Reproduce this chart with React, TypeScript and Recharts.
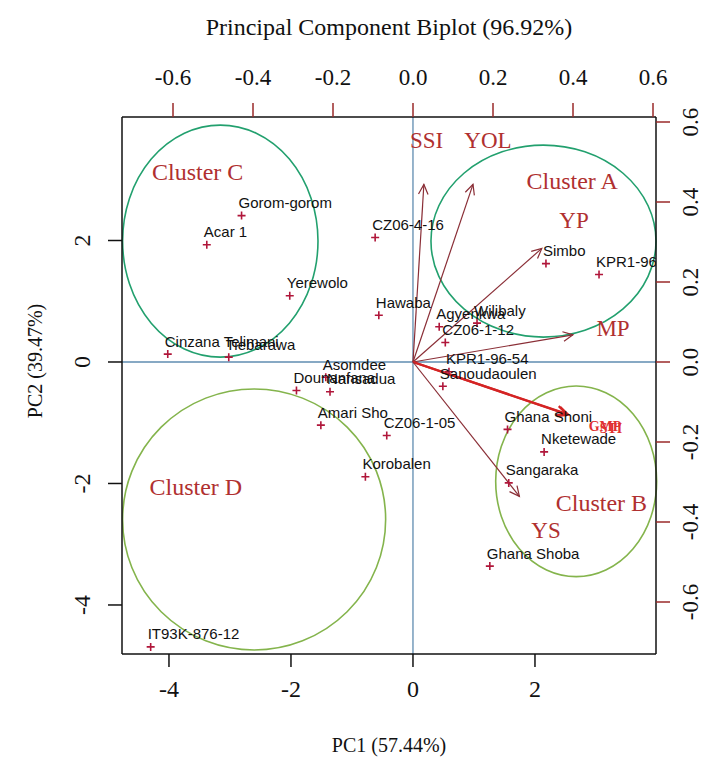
import { ScatterChart, Scatter, XAxis, YAxis, ReferenceLine, ReferenceArea } from 'recharts';

// genotype scores (PC1, PC2)
const genotypes = [
  'Gorom-gorom', 'Acar 1', 'Yerewolo', 'CZ06-4-16', 'Hawaba', 'Cinzana Telimani', 'Tiebarawa',
  'Asomdee', 'Dounanfana', 'Nansadua', 'Amari Sho', 'CZ06-1-05', 'Korobalen', 'IT93K-876-12',
  'Simbo', 'KPR1-96', 'Agyenkwa', 'Wilibaly', 'CZ06-1-12', 'KPR1-96-54', 'Sanoudaoulen',
  'Ghana Shoni', 'Nketewade', 'Sangaraka', 'Ghana Shoba',
];
const pc1 = [
  -2.81, -3.38, -2.02, -0.62, -0.56, -4.02, -3.02,
  -1.43, -1.91, -1.36, -1.51, -0.43, -0.78, -4.30,
  2.18, 3.05, 0.43, 1.05, 0.53, 0.59, 0.49,
  1.55, 2.15, 1.57, 1.26,
];
const pc2 = [
  2.41, 1.93, 1.09, 2.05, 0.77, 0.13, 0.08,
  -0.25, -0.47, -0.49, -1.04, -1.21, -1.89, -4.69,
  1.62, 1.44, 0.58, 0.64, 0.32, -0.16, -0.40,
  -1.11, -1.48, -1.99, -3.36,
];

// variable loadings
const variables = ['SSI', 'YOL', 'YP', 'MP', 'GMP', 'STI', 'YS'];
const load1 = [0.034, 0.1875, 0.4025, 0.5, 0.48, 0.485, 0.3325];
const load2 = [0.555, 0.555, 0.355, 0.085, -0.162, -0.165, -0.42];

// clusters: bounding box on PC scale and label position
const clusters = ['Cluster A', 'Cluster B', 'Cluster C', 'Cluster D'];
const clusterX1 = [0.295, 1.356, -4.76, -4.76];
const clusterX2 = [3.984, 3.995, -1.557, -0.448];
const clusterY1 = [0.41, -3.534, 0.08, -4.74];
const clusterY2 = [3.57, -0.395, 3.9, -0.444];
const clusterLabelX = [2.61, 3.09, -3.53, -3.56];
const clusterLabelY = [2.98, -2.32, 3.13, -2.06];

const xTicks = [-4, -2, 0, 2];
const yTicks = [-4, -2, 0, 2];
const loadTicks = [-0.6, -0.4, -0.2, 0, 0.2, 0.4, 0.6];

const SERIF = '"Liberation Serif", "Times New Roman", serif';
const SANS = '"Liberation Sans", Arial, sans-serif';
const RED = '#b03030';
const ARROW = '#8a2e36';
const clusterColors: Record<string, string> = {
  'Cluster A': '#22a06e',
  'Cluster B': '#84b44c',
  'Cluster C': '#22a06e',
  'Cluster D': '#84b44c',
};

const genoData = genotypes.map((name, i) => ({ name, x: pc1[i], y: pc2[i] }));
const varData = variables.map((name, i) => ({ name, x: load1[i], y: load2[i] }));
const clusterLabels = clusters.map((name, i) => ({ name, x: clusterLabelX[i], y: clusterLabelY[i] }));

const GenoMark = (p: any) => {
  const { cx, cy, payload } = p;
  return (
    <g>
      <path d={`M${cx - 4},${cy}H${cx + 4}M${cx},${cy - 4}V${cy + 4}`} stroke="#b0163a" strokeWidth={1.6} />
      <text x={cx - 3} y={cy - 7.5} fontSize={15} fontFamily={SANS} fill="#111">
        {payload.name}
      </text>
    </g>
  );
};

const VarLabel = (p: any) => {
  const { cx, cy, payload } = p;
  const small = payload.name === 'GMP' || payload.name === 'STI';
  return (
    <text
      x={cx + (payload.name === 'STI' ? 4 : 0)}
      y={cy}
      textAnchor="middle"
      dominantBaseline="central"
      fontSize={small ? 14 : 23}
      fontWeight={small ? 'bold' : 'normal'}
      fontFamily={SERIF}
      fill={small ? '#e03030' : RED}
    >
      {payload.name}
    </text>
  );
};

const ClusterLabel = (p: any) => (
  <text x={p.cx} y={p.cy} textAnchor="middle" dominantBaseline="central" fontSize={24} fontFamily={SERIF} fill={RED}>
    {p.payload.name}
  </text>
);

const arrowShape = (color: string, width: number) => (p: any) => {
  const { x1, y1, x2, y2 } = p;
  const ang = Math.atan2(y2 - y1, x2 - x1);
  const len = 11;
  const spread = Math.PI / 7;
  const ax = x2 - len * Math.cos(ang - spread);
  const ay = y2 - len * Math.sin(ang - spread);
  const bx = x2 - len * Math.cos(ang + spread);
  const by = y2 - len * Math.sin(ang + spread);
  return (
    <g>
      <line x1={x1} y1={y1} x2={x2} y2={y2} stroke={color} strokeWidth={width} />
      <polyline points={`${ax},${ay} ${x2},${y2} ${bx},${by}`} fill="none" stroke={color} strokeWidth={width} />
    </g>
  );
};

const ellipseShape = (color: string) => (p: any) => {
  const { x, y, width, height } = p;
  return (
    <ellipse cx={x + width / 2} cy={y + height / 2} rx={Math.abs(width) / 2} ry={Math.abs(height) / 2}
      fill="none" stroke={color} strokeWidth={1.6} />
  );
};

const tickText = (x: number, y: number, value: string, size: number, rotate = false) => (
  <text
    x={x}
    y={y}
    textAnchor="middle"
    dominantBaseline="central"
    fontSize={size}
    fontFamily={SERIF}
    fill="#111"
    transform={rotate ? `rotate(-90 ${x} ${y})` : undefined}
  >
    {value}
  </text>
);

const BottomTick = (p: any) => tickText(p.x, p.y + 20, String(p.payload.value), 24);
const TopTick = (p: any) => tickText(p.x, p.y - 24, Number(p.payload.value).toFixed(1), 23);
const LeftTick = (p: any) => tickText(p.x - 24, p.y, String(p.payload.value), 24, true);
const RightTick = (p: any) => tickText(p.x + 18, p.y, Number(p.payload.value).toFixed(1), 23, true);

const TitleLabel = (p: any) => {
  const vb = p.viewBox;
  return (
    <text x={vb.x + vb.width / 2} y={27} textAnchor="middle" dominantBaseline="central" fontSize={24} fontFamily={SERIF} fill="#111">
      Principal Component Biplot (96.92%)
    </text>
  );
};

const XTitle = (p: any) => {
  const vb = p.viewBox;
  return (
    <text x={vb.x + vb.width / 2} y={745} textAnchor="middle" dominantBaseline="central" fontSize={20} fontFamily={SERIF} fill="#111">
      PC1 (57.44%)
    </text>
  );
};

const YTitle = () => (
  <text x={35} y={361} textAnchor="middle" dominantBaseline="central" fontSize={20} fontFamily={SERIF} fill="#111"
    transform="rotate(-90 35 361)">
    PC2 (39.47%)
  </text>
);

export default function App() {
  return (
    <div style={{ position: 'absolute', left: 0, top: 0, background: '#fff' }}>
      <ScatterChart width={715} height={762} margin={{ top: 57, right: 9, bottom: 48, left: 62 }}>
        <XAxis xAxisId="pc" dataKey="x" type="number" orientation="bottom" domain={[-4.77, 3.984]} ticks={xTicks}
          allowDataOverflow height={60} tickSize={13} stroke="#111" strokeWidth={1.5} tick={BottomTick}
          label={{ content: XTitle }} />
        <XAxis xAxisId="ld" dataKey="x" type="number" orientation="top" domain={[-0.7275, 0.6075]} ticks={loadTicks}
          allowDataOverflow height={60} tickSize={14} stroke="#111" strokeWidth={1.5}
          tickLine={{ stroke: '#9a2a2a', strokeWidth: 1.5 }} tick={TopTick} label={{ content: TitleLabel }} />
        <YAxis yAxisId="pc" dataKey="y" type="number" orientation="left" domain={[-4.807, 4.033]} ticks={yTicks}
          allowDataOverflow width={60} tickSize={14} stroke="#111" strokeWidth={1.5} tick={LeftTick}
          label={{ content: YTitle }} />
        <YAxis yAxisId="ld" dataKey="y" type="number" orientation="right" domain={[-0.73, 0.6125]} ticks={loadTicks}
          allowDataOverflow width={50} tickSize={14} stroke="#111" strokeWidth={1.5}
          tickLine={{ stroke: '#9a2a2a', strokeWidth: 1.5 }} tick={RightTick} />

        <ReferenceLine xAxisId="pc" yAxisId="pc" x={0} stroke="#5f8cb0" strokeWidth={1.3} />
        <ReferenceLine xAxisId="pc" yAxisId="pc" y={0} stroke="#5f8cb0" strokeWidth={1.3} />

        {clusters.map((c, i) => (
          <ReferenceArea key={c} xAxisId="pc" yAxisId="pc" x1={clusterX1[i]} x2={clusterX2[i]} y1={clusterY1[i]}
            y2={clusterY2[i]} ifOverflow="visible" shape={ellipseShape(clusterColors[c])} />
        ))}

        {variables.map((v, i) => {
          const bold = v === 'GMP' || v === 'STI';
          return (
            <ReferenceLine key={v} xAxisId="ld" yAxisId="ld" ifOverflow="visible"
              segment={[{ x: 0, y: 0 }, { x: 0.8 * load1[i], y: 0.8 * load2[i] }]}
              shape={arrowShape(bold ? '#d42424' : ARROW, bold ? 2.2 : 1.2)} />
          );
        })}

        <Scatter xAxisId="pc" yAxisId="pc" data={genoData} shape={GenoMark} isAnimationActive={false} />
        <Scatter xAxisId="ld" yAxisId="ld" data={varData} shape={VarLabel} isAnimationActive={false} />
        <Scatter xAxisId="pc" yAxisId="pc" data={clusterLabels} shape={ClusterLabel} isAnimationActive={false} />
      </ScatterChart>
    </div>
  );
}
